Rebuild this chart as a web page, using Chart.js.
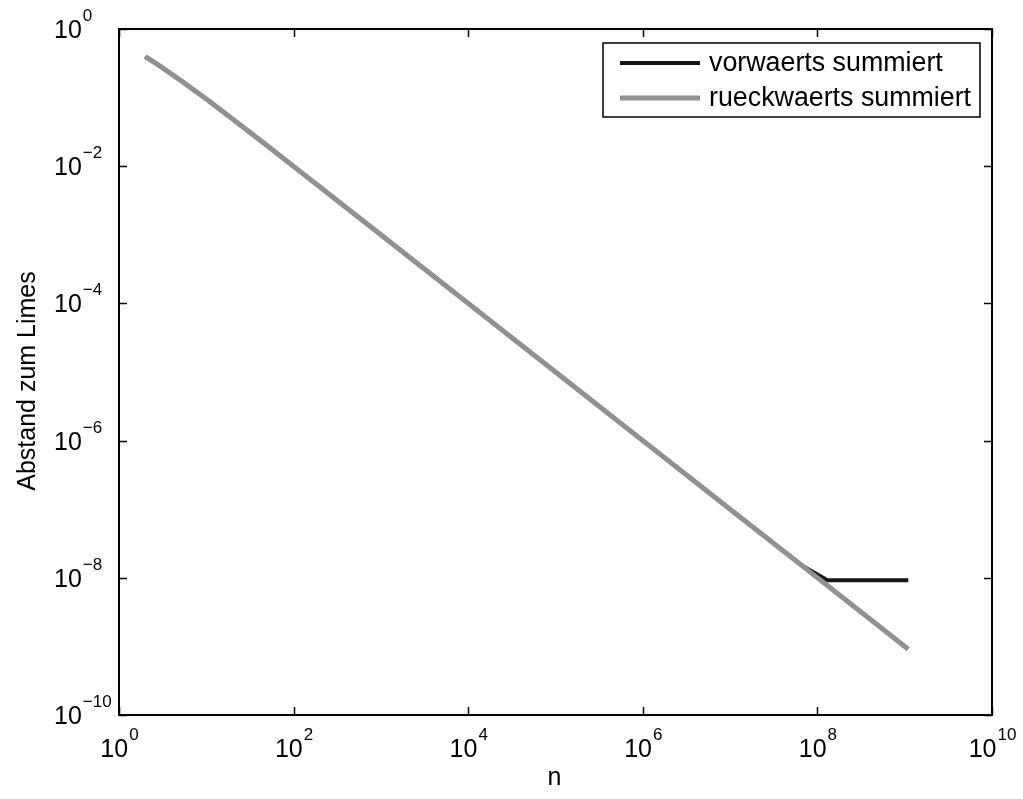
<!DOCTYPE html>
<html>
<head>
<meta charset="utf-8">
<script src="https://cdn.jsdelivr.net/npm/chart.js@4.4.0/dist/chart.umd.min.js"></script>
<style>
  html, body { margin: 0; padding: 0; background: #fff; }
  #wrap { width: 1023px; height: 799px; }
</style>
</head>
<body>
<div id="wrap"><canvas id="plot" width="1023" height="799"></canvas></div>
<script>
'use strict';

// Abstand zum Limes (pi^2/6 - Partialsumme)
const nWerte = [2, 3, 5, 10, 20, 50, 100, 1e3, 1e4, 1e5, 1e6, 1e7, 7e7, 1.3e8, 1.1e9];
const vorwaerts = [0.395, 0.284, 0.181, 0.0952, 0.0488, 0.0198, 0.00995, 9.995e-4, 1e-4, 1e-5, 1e-6, 1e-7, 1.45e-8, 9.2e-9, 9.2e-9];
const rueckwaerts = [0.395, 0.284, 0.181, 0.0952, 0.0488, 0.0198, 0.00995, 9.995e-4, 1e-4, 1e-5, 1e-6, 1e-7, 1.43e-8, 7.7e-9, 9.1e-10];

const serienNamen = ['vorwaerts summiert', 'rueckwaerts summiert'];
const xTickExp = [0, 2, 4, 6, 8, 10];
const yTickExp = [0, -2, -4, -6, -8, -10];
const xTitel = 'n';
const yTitel = 'Abstand zum Limes';

const FONT = "'Liberation Sans', Arial, Helvetica, sans-serif";

function toPoints(xs, ys) {
    return xs.map((x, i) => ({ x: x, y: ys[i] }));
}

// "10" mit hochgestelltem Exponenten zeichnen
function drawPow(ctx, exp, x, yBase, align) {
    const basis = '10';
    const hoch = String(exp).replace('-', '\u2212');
    ctx.font = '25px ' + FONT;
    const wb = ctx.measureText(basis).width;
    ctx.font = '17px ' + FONT;
    const we = ctx.measureText(hoch).width;
    let x0 = x;
    if (align === 'center') x0 = x - (wb + we) / 2;
    ctx.textAlign = 'left';
    ctx.textBaseline = 'alphabetic';
    ctx.font = '25px ' + FONT;
    ctx.fillText(basis, x0, yBase);
    ctx.font = '17px ' + FONT;
    ctx.fillText(hoch, x0 + wb + 1, yBase - 17);
}

const achsenPlugin = {
    id: 'achsen',
    afterDatasetsDraw(chart) {
        const ctx = chart.ctx;
        const a = chart.chartArea;
        const xs = chart.scales.x;
        const ys = chart.scales.y;
        const tl = 8;

        ctx.save();
        ctx.strokeStyle = '#000';
        ctx.fillStyle = '#000';

        // Rahmen
        ctx.lineWidth = 2;
        ctx.strokeRect(a.left, a.top, a.right - a.left, a.bottom - a.top);

        // Ticks nach innen
        ctx.lineWidth = 1.5;
        ctx.beginPath();
        xTickExp.forEach(e => {
            const px = Math.round(xs.getPixelForValue(Math.pow(10, e))) + 0.5;
            ctx.moveTo(px, a.bottom); ctx.lineTo(px, a.bottom - tl);
            ctx.moveTo(px, a.top); ctx.lineTo(px, a.top + tl);
        });
        yTickExp.forEach(e => {
            const py = Math.round(ys.getPixelForValue(Math.pow(10, e))) + 0.5;
            ctx.moveTo(a.left, py); ctx.lineTo(a.left + tl, py);
            ctx.moveTo(a.right, py); ctx.lineTo(a.right - tl, py);
        });
        ctx.stroke();

        // Tick-Beschriftungen
        xTickExp.forEach(e => {
            drawPow(ctx, e, xs.getPixelForValue(Math.pow(10, e)), a.bottom + 42, 'center');
        });
        yTickExp.forEach(e => {
            drawPow(ctx, e, 54, ys.getPixelForValue(Math.pow(10, e)) + 9, 'left');
        });

        // Achsentitel
        ctx.font = '25px ' + FONT;
        ctx.textAlign = 'center';
        ctx.textBaseline = 'middle';
        ctx.fillText(xTitel, (a.left + a.right) / 2 - 1, 778);
        ctx.save();
        ctx.translate(28, (a.top + a.bottom) / 2 + 9);
        ctx.rotate(-Math.PI / 2);
        ctx.fillText(yTitel, 0, 0);
        ctx.restore();

        // Legende
        const lx = 603, ly = 43, lw = 377, lh = 74;
        ctx.fillStyle = '#fff';
        ctx.fillRect(lx, ly, lw, lh);
        ctx.lineWidth = 1.5;
        ctx.strokeStyle = '#000';
        ctx.strokeRect(lx, ly, lw, lh);
        const zeilen = [63, 98];
        chart.data.datasets.forEach((ds, i) => {
            ctx.strokeStyle = ds.borderColor;
            ctx.lineWidth = ds.borderWidth;
            ctx.beginPath();
            ctx.moveTo(620, zeilen[i]);
            ctx.lineTo(700, zeilen[i]);
            ctx.stroke();
            ctx.fillStyle = '#000';
            ctx.font = '26.8px ' + FONT;
            ctx.textAlign = 'left';
            ctx.textBaseline = 'middle';
            ctx.fillText(ds.label, 709, zeilen[i] + 1);
        });

        ctx.restore();
    }
};

new Chart(document.getElementById('plot'), {
    type: 'line',
    data: {
        datasets: [
            {
                label: serienNamen[0],
                data: toPoints(nWerte, vorwaerts),
                borderColor: '#151515',
                borderWidth: 4,
                pointRadius: 0,
                fill: false,
                tension: 0,
                order: 2
            },
            {
                label: serienNamen[1],
                data: toPoints(nWerte, rueckwaerts),
                borderColor: '#919191',
                borderWidth: 5,
                pointRadius: 0,
                fill: false,
                tension: 0,
                order: 1
            }
        ]
    },
    options: {
        responsive: false,
        animation: false,
        layout: { padding: { left: 119, top: 29, right: 31, bottom: 84 } },
        scales: {
            x: { type: 'logarithmic', min: 1, max: 1e10, display: false },
            y: { type: 'logarithmic', min: 1e-10, max: 1, display: false }
        },
        plugins: {
            legend: { display: false },
            tooltip: { enabled: false }
        }
    },
    plugins: [achsenPlugin]
});
</script>
</body>
</html>
